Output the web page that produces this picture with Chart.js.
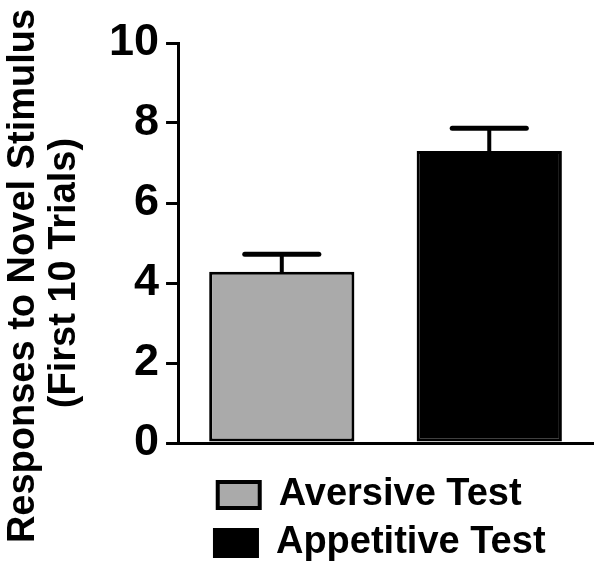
<!DOCTYPE html>
<html>
<head>
<meta charset="utf-8">
<script src="https://cdn.jsdelivr.net/npm/chart.js@4.4.1/dist/chart.umd.min.js"></script>
<style>
  html, body { margin: 0; padding: 0; background: #fff; }
  #wrap { width: 602px; height: 578px; }
</style>
</head>
<body>
<div id="wrap"><canvas id="chart"></canvas></div>
<script>
// ── data ──
const groups   = ['Aversive Test', 'Appetitive Test'];
const means    = [4.28, 7.30];
const sems     = [0.44, 0.57];
const barFills = ['#aaaaaa', '#000000'];
const yTicks   = [0, 2, 4, 6, 8, 10];
const yTitle   = ['Responses to Novel Stimulus', '(First 10 Trials)'];

const FONT = "'Liberation Sans', Arial, Helvetica, sans-serif";

// error bars (upper half only, like the prism style)
const errorBars = {
  id: 'errorBars',
  afterDatasetsDraw(chart) {
    const { ctx, scales: { y } } = chart;
    const meta = chart.getDatasetMeta(0);
    ctx.save();
    ctx.strokeStyle = '#000';
    ctx.lineCap = 'round';
    meta.data.forEach((bar, i) => {
      const yTop = y.getPixelForValue(means[i] + sems[i]);
      const half = bar.width * 0.255;
      ctx.lineWidth = 4;
      ctx.beginPath(); ctx.moveTo(bar.x, bar.y); ctx.lineTo(bar.x, yTop); ctx.stroke();
      ctx.lineWidth = 5;
      ctx.beginPath(); ctx.moveTo(bar.x - half, yTop); ctx.lineTo(bar.x + half, yTop); ctx.stroke();
    });
    ctx.restore();
  }
};

// two-line rotated y title; it sits lower than the axis centre in the original
const yTitlePlugin = {
  id: 'yTitle',
  afterDraw(chart) {
    const ctx = chart.ctx;
    const spots = [[24, 276], [65, 273]];
    ctx.save();
    ctx.fillStyle = '#000';
    ctx.font = 'bold 38px ' + FONT;
    ctx.textAlign = 'center';
    ctx.textBaseline = 'middle';
    yTitle.forEach((t, i) => {
      ctx.save();
      ctx.translate(spots[i][0], spots[i][1]);
      ctx.rotate(-Math.PI / 2);
      ctx.fillText(t, 0, 0);
      ctx.restore();
    });
    ctx.restore();
  }
};

new Chart(document.getElementById('chart'), {
  type: 'bar',
  data: {
    labels: groups,
    datasets: [{
      data: means,
      backgroundColor: barFills,
      borderColor: '#000',
      borderWidth: 3,
      borderSkipped: false,
      categoryPercentage: 1,
      barPercentage: 0.70,
    }]
  },
  plugins: [errorBars, yTitlePlugin],
  options: {
    responsive: true, maintainAspectRatio: false, animation: false,
    devicePixelRatio: 1,
    layout: { padding: { left: 102, right: 9, top: 43, bottom: 6 } },
    plugins: {
      tooltip: { enabled: false },
      legend: {
        position: 'bottom', align: 'center', fullSize: false,
        labels: {
          boxWidth: 42, boxHeight: 26, padding: 10, color: '#000',
          font: { family: FONT, size: 38, weight: 'bold' },
          // trailing spaces so both rows come out the same width and line up
          generateLabels: () => groups.map((g, i) => ({
            text: i === 0 ? g + '   ' : g + ' ',
            fillStyle: barFills[i], strokeStyle: '#000', lineWidth: 4,
            fontColor: '#000', hidden: false, index: i,
          })),
        }
      }
    },
    scales: {
      x: {
        grid: { display: false },
        border: { display: true, color: '#000', width: 3 },
        ticks: { display: false },
        afterFit: s => { s.height = 23; },
      },
      y: {
        min: 0, max: 10,
        afterBuildTicks: s => { s.ticks = yTicks.map(v => ({ value: v })); },
        grid: { drawOnChartArea: false, drawTicks: true, tickLength: 12, color: '#000', lineWidth: 3 },
        border: { display: true, color: '#000', width: 3 },
        ticks: { color: '#000', padding: 7, font: { family: FONT, size: 45, weight: 'bold' } },
      }
    }
  }
});
</script>
</body>
</html>
